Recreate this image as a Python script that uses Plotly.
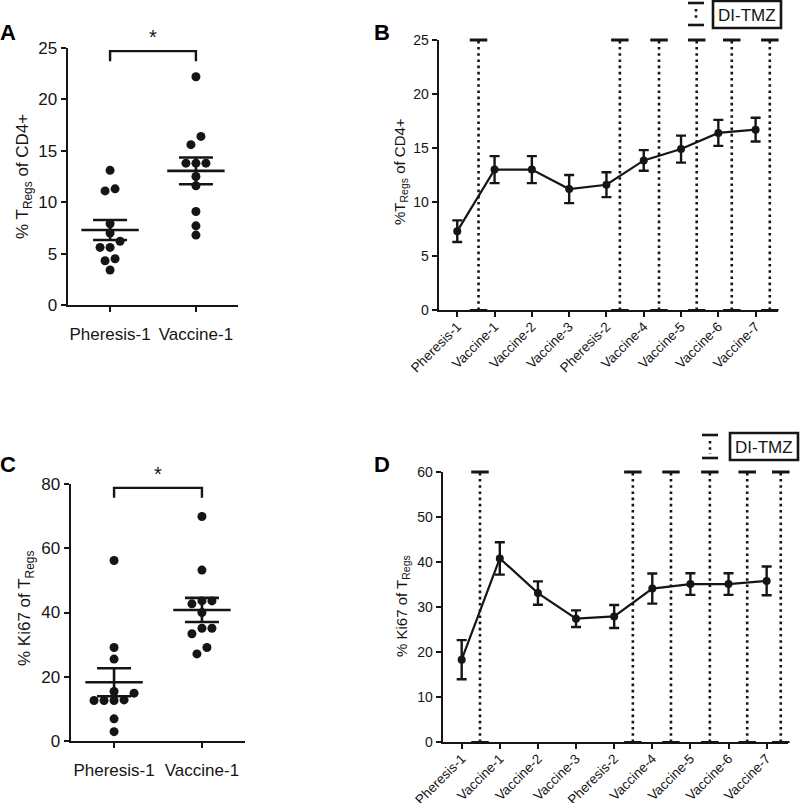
import plotly.graph_objects as go

W, H = 800, 803
INK = "#151515"
FONT = "Liberation Sans, Arial, sans-serif"

# ---------------- data ----------------
ac_categories = ["Pheresis-1", "Vaccine-1"]
a_pheresis = [13.1, 11.1, 11.3, 7.9, 7.0, 6.2, 5.6, 5.6, 4.5, 4.3, 3.4]
a_vaccine = [22.2, 16.4, 15.6, 13.8, 13.8, 13.8, 12.5, 11.6, 9.1, 7.7, 6.8]
a_mean = [7.3, 13.05]
a_sem = [0.97, 1.3]

c_pheresis = [56.2, 29.1, 25.5, 15.4, 14.9, 12.6, 12.6, 12.6, 12.8, 6.9, 2.9]
c_vaccine = [69.9, 53.2, 43.6, 42.7, 43.6, 40.0, 35.1, 35.1, 33.4, 29.1, 27.1]
c_mean = [18.3, 40.8]
c_sem = [4.35, 3.75]

timepoints = ["Pheresis-1", "Vaccine-1", "Vaccine-2", "Vaccine-3", "Pheresis-2",
              "Vaccine-4", "Vaccine-5", "Vaccine-6", "Vaccine-7"]
b_mean = [7.3, 13.0, 13.0, 11.2, 11.6, 13.85, 14.9, 16.4, 16.7]
b_sem = [1.0, 1.25, 1.25, 1.3, 1.15, 0.95, 1.25, 1.2, 1.1]
d_mean = [18.3, 40.8, 33.1, 27.4, 27.9, 34.1, 35.1, 35.1, 35.8]
d_sem = [4.35, 3.6, 2.6, 1.85, 2.55, 3.35, 2.4, 2.4, 3.2]

# DI-TMZ administrations (position along the timepoint axis)
b_ditmz = [0.57, 4.36, 5.41, 6.42, 7.36, 8.38]
d_ditmz = [0.48, 4.49, 5.49, 6.51, 7.49, 8.37]
b_ditmz_level = 25
d_ditmz_level = 60

a_yticks = [0, 5, 10, 15, 20, 25]
b_yticks = [0, 5, 10, 15, 20, 25]
c_yticks = [0, 20, 40, 60, 80]
d_yticks = [0, 10, 20, 30, 40, 50, 60]

# ---------------- layout geometry (pixels) ----------------
panels = {
    "A": dict(x=(68, 238), y=(48, 305), xr=(-0.49, 1.49), yr=(0, 25)),
    "B": dict(x=(439, 778), y=(40, 310), xr=(-0.49, 8.6), yr=(0, 25)),
    "C": dict(x=(71, 245), y=(484, 741), xr=(-0.49, 1.49), yr=(0, 80)),
    "D": dict(x=(443, 788), y=(472, 742), xr=(-0.49, 8.56), yr=(0, 60)),
}


def px(x):
    return x / W


def py(y):
    return 1 - y / H


def dodge(values, p, dot_px=10.0, thresh_px=8.5):
    """Spread points that collide vertically into symmetric rows."""
    ppu_y = (p["y"][1] - p["y"][0]) / (p["yr"][1] - p["yr"][0])
    ppu_x = (p["x"][1] - p["x"][0]) / (p["xr"][1] - p["xr"][0])
    d = dot_px / ppu_x
    order = sorted(range(len(values)), key=lambda i: values[i])
    groups = []
    for i in order:
        if groups and (values[i] - values[groups[-1][0]]) * ppu_y < thresh_px:
            groups[-1].append(i)
        else:
            groups.append([i])
    off = [0.0] * len(values)
    for g in groups:
        n = len(g)
        for k, i in enumerate(g):
            off[i] = (k - (n - 1) / 2) * d
    return off


fig = go.Figure()

axis_ids = {"A": ("x", "y"), "B": ("x2", "y2"), "C": ("x3", "y3"), "D": ("x4", "y4")}


def scatter_panel(key, groups, means, sems):
    xa, ya = axis_ids[key]
    p = panels[key]
    for gi, vals in enumerate(groups):
        off = dodge(vals, p)
        fig.add_trace(go.Scatter(
            x=[gi + o for o in off], y=vals, mode="markers", xaxis=xa, yaxis=ya,
            marker=dict(size=9, color=INK), showlegend=False, cliponaxis=False))
    fig.add_trace(go.Scatter(
        x=list(range(len(means))), y=means, mode="markers", xaxis=xa, yaxis=ya,
        marker=dict(symbol="line-ew", size=41, color=INK, line=dict(width=2.6, color=INK)),
        error_y=dict(type="data", array=sems, visible=True, width=17, thickness=2.6, color=INK),
        showlegend=False, cliponaxis=False))


scatter_panel("A", [a_pheresis, a_vaccine], a_mean, a_sem)
scatter_panel("C", [c_pheresis, c_vaccine], c_mean, c_sem)


def line_panel(key, means, sems, ditmz, level):
    xa, ya = axis_ids[key]
    # DI-TMZ dotted markers
    xs, ys = [], []
    for d in ditmz:
        xs += [d, d, None]
        ys += [0, level, None]
    fig.add_trace(go.Scatter(x=xs, y=ys, mode="lines", xaxis=xa, yaxis=ya,
                             line=dict(color=INK, width=2.6, dash="2.6px,3.6px"),
                             showlegend=False, cliponaxis=False))
    fig.add_trace(go.Scatter(x=ditmz, y=[level] * len(ditmz), mode="markers", xaxis=xa, yaxis=ya,
                             marker=dict(symbol="line-ew", size=12.5, line=dict(width=3, color=INK)),
                             showlegend=False, cliponaxis=False))
    fig.add_trace(go.Scatter(x=ditmz, y=[0] * len(ditmz), mode="markers", xaxis=xa, yaxis=ya,
                             marker=dict(symbol="line-ew", size=12.5, line=dict(width=2, color=INK)),
                             showlegend=False, cliponaxis=False))
    fig.add_trace(go.Scatter(
        x=list(range(len(means))), y=means, mode="lines+markers", xaxis=xa, yaxis=ya,
        line=dict(color=INK, width=2.2), marker=dict(size=8, color=INK),
        error_y=dict(type="data", array=sems, visible=True, width=5, thickness=2.4, color=INK),
        showlegend=False, cliponaxis=False))


line_panel("B", b_mean, b_sem, b_ditmz, b_ditmz_level)
line_panel("D", d_mean, d_sem, d_ditmz, d_ditmz_level)


def axis_style(dom, rng, **kw):
    base = dict(domain=dom, range=list(rng), showgrid=False, zeroline=False,
                showline=True, linecolor=INK, linewidth=2.4,
                ticks="outside", ticklen=5, tickwidth=2, tickcolor=INK,
                fixedrange=True, automargin=False)
    base.update(kw)
    return base


layout_axes = {}
names = {"A": ("xaxis", "yaxis"), "B": ("xaxis2", "yaxis2"),
         "C": ("xaxis3", "yaxis3"), "D": ("xaxis4", "yaxis4")}
yticks = {"A": a_yticks, "B": b_yticks, "C": c_yticks, "D": d_yticks}
for key, p in panels.items():
    xn, yn = names[key]
    xa, ya = axis_ids[key]
    xdom = [px(p["x"][0]), px(p["x"][1])]
    ydom = [py(p["y"][1]), py(p["y"][0])]
    if key in ("A", "C"):
        xkw = dict(tickvals=[0, 1], ticktext=ac_categories,
                   tickfont=dict(size=17, color=INK, family=FONT), ticklabelstandoff=7)
        yfont = dict(size=17, color=INK, family=FONT)
    else:
        xkw = dict(tickvals=list(range(len(timepoints))), ticktext=timepoints, tickangle=-45,
                   tickfont=dict(size=13.5, color=INK, family=FONT), ticklabelstandoff=-4)
        yfont = dict(size=14, color=INK, family=FONT)
    layout_axes[xn] = axis_style(xdom, p["xr"], anchor=ya, **xkw)
    layout_axes[yn] = axis_style(ydom, p["yr"], anchor=xa, tickvals=yticks[key],
                                 tickfont=yfont)

annotations = []
shapes = []

# panel letters
for letter, (x, y) in {"A": (8, 33), "B": (382, 32), "C": (8, 464), "D": (382, 464)}.items():
    annotations.append(dict(text=f"<b>{letter}</b>", x=px(x), y=py(y), xref="paper", yref="paper",
                            showarrow=False, font=dict(size=22, color="#000", family=FONT),
                            xanchor="center", yanchor="middle"))

# y titles
ytitles = [
    ("% T<sub>Regs</sub> of CD4+", 24, 177, 17),
    ("%T<sub>Regs</sub> of CD4+", 401, 172, 15),
    ("% Ki67 of T<sub>Regs</sub>", 26, 609, 17),
    ("% Ki67 of T<sub>Regs</sub>", 402, 606, 15),
]
for txt, x, y, s in ytitles:
    annotations.append(dict(text=txt, x=px(x), y=py(y), xref="paper", yref="paper",
                            showarrow=False, textangle=-90, font=dict(size=s, color=INK, family=FONT),
                            xanchor="center", yanchor="middle"))

# significance brackets
for key, (top, bot, star_y) in {"A": (24.7, 23.7, 37), "C": (78.8, 75.7, 474)}.items():
    xa, ya = axis_ids[key]
    shapes.append(dict(type="path", xref=xa, yref=ya,
                       path=f"M 0 {bot} L 0 {top} L 1 {top} L 1 {bot}",
                       line=dict(color=INK, width=2.4)))
    annotations.append(dict(text="*", x=0.5, y=py(star_y), xref=xa, yref="paper",
                            showarrow=False, font=dict(size=20, color=INK, family=FONT),
                            xanchor="center", yanchor="middle"))

# DI-TMZ legends
for (sx, stop, sbot, bx0, by0, bx1, by1) in [(696, 3, 25, 713, 1, 781, 28),
                                              (710, 435, 458, 730, 433, 798, 460)]:
    shapes.append(dict(type="line", xref="paper", yref="paper",
                       x0=px(sx - 8), x1=px(sx + 8), y0=py(stop), y1=py(stop),
                       line=dict(color=INK, width=2.6)))
    shapes.append(dict(type="line", xref="paper", yref="paper",
                       x0=px(sx - 8), x1=px(sx + 8), y0=py(sbot), y1=py(sbot),
                       line=dict(color=INK, width=2.6)))
    shapes.append(dict(type="line", xref="paper", yref="paper",
                       x0=px(sx), x1=px(sx), y0=py(stop + 6), y1=py(sbot - 4),
                       line=dict(color=INK, width=2.6, dash="2.6px,3.6px")))
    shapes.append(dict(type="rect", xref="paper", yref="paper",
                       x0=px(bx0), x1=px(bx1), y0=py(by1), y1=py(by0),
                       line=dict(color=INK, width=2.6)))
    annotations.append(dict(text="DI-TMZ", x=px((bx0 + bx1) / 2), y=py((by0 + by1) / 2 + 1),
                            xref="paper", yref="paper", showarrow=False,
                            font=dict(size=17, color=INK, family=FONT),
                            xanchor="center", yanchor="middle"))

fig.update_layout(
    template="none",
    width=W, height=H, margin=dict(l=0, r=0, t=0, b=0, autoexpand=False),
    paper_bgcolor="white", plot_bgcolor="white",
    font=dict(family=FONT, color=INK),
    showlegend=False, annotations=annotations, shapes=shapes,
    **layout_axes,
)

fig.write_html(
    "out.html",
    config={"displayModeBar": False, "staticPlot": True},
    post_script="document.body.style.margin='0';document.body.style.padding='0';"
                "document.body.style.overflow='hidden';",
)
